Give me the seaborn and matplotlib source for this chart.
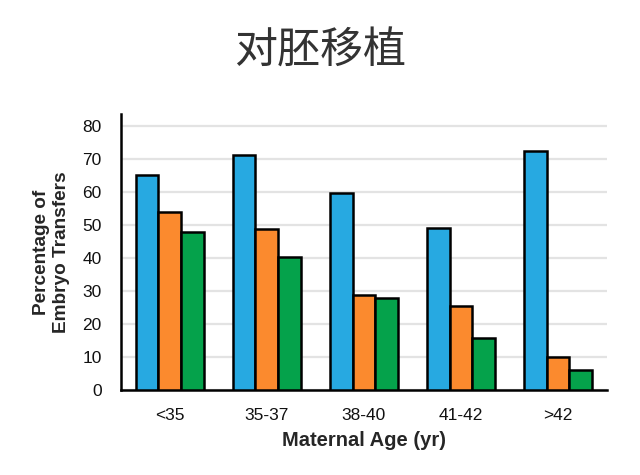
import matplotlib
matplotlib.use("Agg")
import matplotlib.pyplot as plt
import seaborn as sns
import pandas as pd
import numpy as np

categories = ["<35", "35-37", "38-40", "41-42", ">42"]
series_names = ["A", "B", "C"]
series_a = [65.2, 71.2, 59.7, 49.2, 72.4]
series_b = [54.0, 48.8, 28.8, 25.5, 10.0]
series_c = [47.8, 40.2, 27.8, 15.8, 6.0]
colors = ["#27a9e1", "#fb8a2e", "#05a24b"]

rows = []
for name, vals in zip(series_names, [series_a, series_b, series_c]):
    for c, v in zip(categories, vals):
        rows.append({"age": c, "series": name, "value": v})
df = pd.DataFrame(rows)

sns.set_style("white")
plt.rcParams['font.family'] = ['Liberation Sans', 'DejaVu Sans']

fig = plt.figure(figsize=(6.4, 4.75), dpi=100)
ax = fig.add_axes([0.189, 0.179, 0.759, 0.581])

sns.barplot(data=df, x="age", y="value", hue="series", order=categories,
            hue_order=series_names, palette=colors, width=0.7, saturation=1,
            edgecolor="black", linewidth=1.8, legend=False, ax=ax, zorder=3)

ax.set_ylim(0, 83.6)
ax.set_xlim(-0.5, 4.5)
ax.set_yticks(range(0, 81, 10))
ax.yaxis.grid(True, color="#e3e3e3", linewidth=1.6, zorder=0)
ax.set_axisbelow(True)
for s in ["top", "right"]:
    ax.spines[s].set_visible(False)
for s in ["left", "bottom"]:
    ax.spines[s].set_color("black")
    ax.spines[s].set_linewidth(1.8)

ax.tick_params(axis="both", labelsize=12.5, length=0, colors="#111111")
ax.tick_params(axis="y", pad=14)
ax.tick_params(axis="x", pad=13)
ax.set_xticks(np.arange(0.5, 5, 1.0), minor=True)
ax.tick_params(axis="x", which="minor", length=4, width=1.5, color="black", direction="out")

ax.set_xlabel("Maternal Age (yr)", fontsize=14.5, fontweight="bold", labelpad=6)
ax.set_ylabel("Percentage of\nEmbryo Transfers", fontsize=13.7, fontweight="bold", labelpad=9)

fig.text(0.5, 0.892, "对胚移植", ha="center", va="center", fontsize=31,
         color="#333333", family=["Noto Sans CJK SC", "DejaVu Sans"])

fig.savefig("out.png", dpi=100)
